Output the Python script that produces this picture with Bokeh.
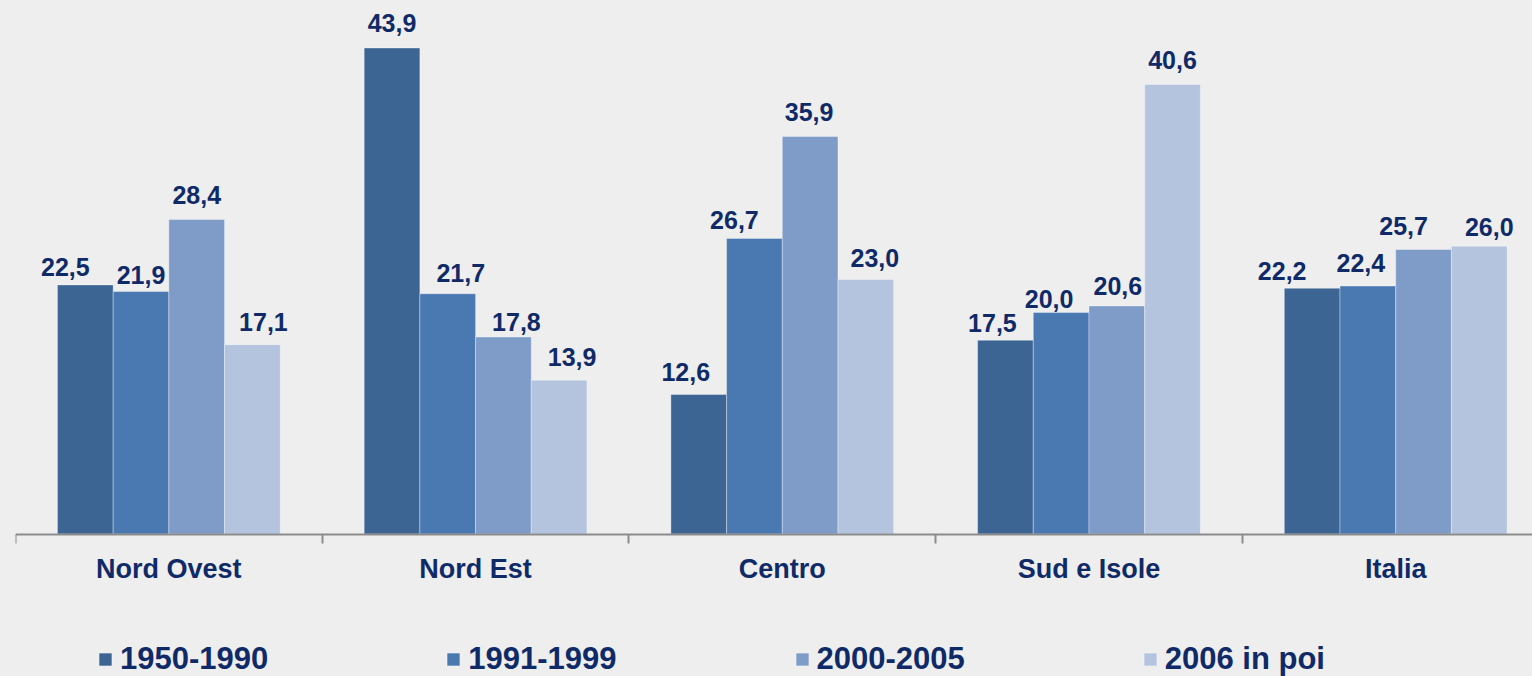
from bokeh.plotting import figure
from bokeh.models import Range1d, LinearAxis, FixedTicker, ColumnDataSource, Legend, LegendItem
from bokeh.core.properties import value
from bokeh.embed import file_html
from bokeh.resources import INLINE

# ---- data ----
categories = ["Nord Ovest", "Nord Est", "Centro", "Sud e Isole", "Italia"]
series_names = ["1950-1990", "1991-1999", "2000-2005", "2006 in poi"]
v_1950_1990 = [22.5, 43.9, 12.6, 17.5, 22.2]
v_1991_1999 = [21.9, 21.7, 26.7, 20.0, 22.4]
v_2000_2005 = [28.4, 17.8, 35.9, 20.6, 25.7]
v_2006_poi = [17.1, 13.9, 23.0, 40.6, 26.0]
series_values = [v_1950_1990, v_1991_1999, v_2000_2005, v_2006_poi]

# ---- styling ----
colors = ["#3d6594", "#4a78b0", "#7f9cc8", "#b4c4de"]
# per-label nudges (px) reproducing the original label placement
label_dx = [[-20, 0, -13, -13, -30],
            [0, 13, -20, -12, -7],
            [0, 13, -1, 1, -20],
            [11, 13, 9, 0, 10]]
label_gap = [[9, 16, 14, 8, 8],
             [8, 12, 9, 5, 14],
             [16, 6, 16, 11, 14],
             [14, 14, 12, 16, 10]]
BASELINE_FIX = 9
TXT = "#102a68"
BG = "#eeeeee"
FONT = "Liberation Sans"
bar_w = 0.1816

p = figure(width=1532, height=676, output_backend="svg", toolbar_location=None,
           x_range=Range1d(0, 4.946), y_range=Range1d(-12.87, 48.19),
           x_axis_location=None, y_axis_location=None,
           min_border_left=15, min_border_right=0, min_border_top=0, min_border_bottom=0)
p.background_fill_color = BG
p.border_fill_color = BG
p.outline_line_color = None
p.xgrid.visible = False
p.ygrid.visible = False

items = []
n = len(series_names)
for j, (name, vals) in enumerate(zip(series_names, series_values)):
    xs = [i + 0.5 + (j - (n - 1) / 2) * bar_w for i in range(len(categories))]
    src = ColumnDataSource(dict(
        x=xs, top=vals,
        lbl=[f"{v:.1f}".replace(".", ",") for v in vals],
        dx=label_dx[j], dy=[-(g + BASELINE_FIX) for g in label_gap[j]],
    ))
    r = p.vbar(x="x", top="top", bottom=0, width=bar_w, source=src,
               fill_color=colors[j], line_color="white", line_alpha=0.35, line_width=1)
    p.text(x="x", y="top", text="lbl", x_offset="dx", y_offset="dy", source=src,
           text_align="center", text_baseline="alphabetic",
           text_font=value(FONT), text_font_style="bold", text_font_size="25px",
           text_color=TXT)
    items.append(LegendItem(label=name, renderers=[r]))

xaxis = LinearAxis(fixed_location=0,
                   ticker=FixedTicker(ticks=[i + 0.5 for i in range(len(categories))],
                                      minor_ticks=list(range(len(categories)))),
                   major_label_overrides={i + 0.5: c for i, c in enumerate(categories)})
xaxis.axis_line_color = "#8c8c8c"
xaxis.axis_line_width = 2
xaxis.major_tick_out = 0
xaxis.major_tick_in = 0
xaxis.minor_tick_out = 9
xaxis.minor_tick_in = 0
xaxis.minor_tick_line_color = "#8c8c8c"
xaxis.minor_tick_line_width = 2
xaxis.major_label_standoff = 11
xaxis.major_label_text_font = FONT
xaxis.major_label_text_font_style = "bold"
xaxis.major_label_text_font_size = "27px"
xaxis.major_label_text_color = TXT
p.add_layout(xaxis, "below")

legend = Legend(items=items, orientation="horizontal", location=(82, -1),
                glyph_width=16, glyph_height=16, label_standoff=7, spacing=177,
                padding=0, margin=0, border_line_alpha=0, background_fill_alpha=0,
                label_text_font=FONT, label_text_font_style="bold",
                label_text_font_size="31px", label_text_color=TXT)
p.add_layout(legend)

html = file_html(p, INLINE)
html = html.replace("<body>", '<body style="background-color:#eeeeee;">')
open("out.html", "w").write(html)
